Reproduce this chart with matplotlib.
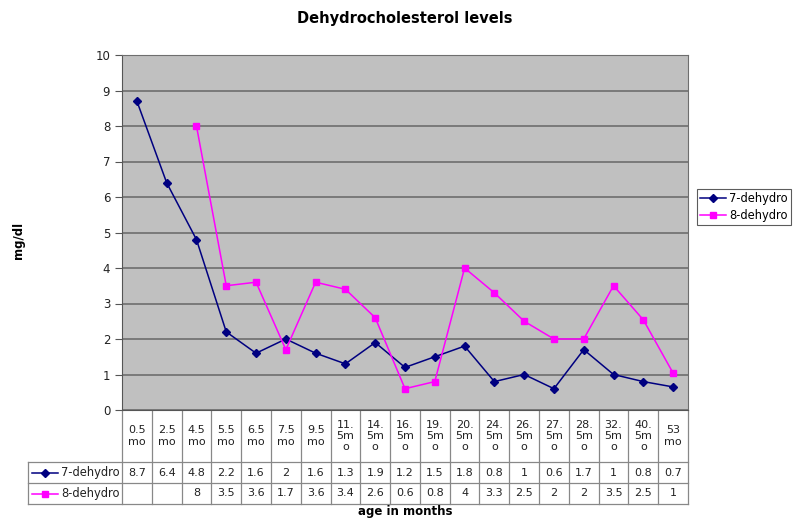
import matplotlib.pyplot as plt
import matplotlib.transforms as mtransforms
import numpy as np

# categories (age in months) and the two series
ages = ['0.5\nmo', '2.5\nmo', '4.5\nmo', '5.5\nmo', '6.5\nmo', '7.5\nmo', '9.5\nmo',
        '11.\n5m\no', '14.\n5m\no', '16.\n5m\no', '19.\n5m\no', '20.\n5m\no',
        '24.\n5m\no', '26.\n5m\no', '27.\n5m\no', '28.\n5m\no', '32.\n5m\no',
        '40.\n5m\no', '53\nmo']
dehydro7 = [8.7, 6.4, 4.8, 2.2, 1.6, 2, 1.6, 1.3, 1.9, 1.2, 1.5, 1.8, 0.8, 1, 0.6, 1.7, 1, 0.8, 0.65]
dehydro8 = [None, None, 8, 3.5, 3.6, 1.7, 3.6, 3.4, 2.6, 0.6, 0.8, 4, 3.3, 2.5, 2, 2, 3.5, 2.54, 1.04]
series = [('7-dehydro', dehydro7, '#000080', 'D', 3.8),
          ('8-dehydro', dehydro8, '#FF00FF', 's', 4.8)]

plt.rcParams['font.family'] = 'DejaVu Sans'

fig = plt.figure(figsize=(8, 5.24), dpi=100)
ax = fig.add_axes([122/800, 1 - 410/524, 566/800, 355/524])
ax.set_facecolor('#C0C0C0')

n = len(ages)
x = np.arange(n)
for name, vals, col, mk, ms in series:
    y = np.array([np.nan if v is None else v for v in vals], dtype=float)
    ax.plot(x, y, color=col, marker=mk, markersize=ms, lw=1.1, label=name)

ax.set_xlim(-0.5, n - 0.5)
ax.set_ylim(0, 10)
ax.set_yticks(range(0, 11))
ax.yaxis.grid(True, color='#6e6e6e', lw=1.2)
ax.set_axisbelow(True)
ax.set_xticks([])
ax.tick_params(axis='y', length=5, color='#555555', labelsize=8.5, labelcolor='#222222')
for s in ['top', 'right']:
    ax.spines[s].set_color('#6e6e6e')
for s in ['left', 'bottom']:
    ax.spines[s].set_color('#555555')

ax.set_title('Dehydrocholesterol levels', fontsize=10.5, fontweight='bold', pad=23)
fig.text(18/800, 1 - 240/524, 'mg/dl', rotation=90, fontsize=8.5, fontweight='bold',
         ha='center', va='center')

# data table below the axes
tr = mtransforms.blended_transform_factory(ax.transData, ax.transAxes)
tra = ax.transAxes
h1, r1, r2 = -52/355, -73/355, -94/355
lc = '#888888'
left_key = (28 - 122) / 566
for i in range(n + 1):
    ax.plot([i - 0.5, i - 0.5], [0, r2], transform=tr, color=lc, lw=0.9, clip_on=False)
ax.plot([left_key, 1], [h1, h1], transform=tra, color=lc, lw=0.9, clip_on=False)
ax.plot([left_key, 1], [r1, r1], transform=tra, color=lc, lw=0.9, clip_on=False)
ax.plot([left_key, 1], [r2, r2], transform=tra, color=lc, lw=0.9, clip_on=False)
ax.plot([left_key, left_key], [h1, r2], transform=tra, color=lc, lw=0.9, clip_on=False)

for i, lab in enumerate(ages):
    ax.text(i, h1 / 2, lab, transform=tr, ha='center', va='center', fontsize=8,
            color='#222222', linespacing=1.15)


def fmt(v):
    if v is None:
        return ''
    return '%g' % round(v, 1)


rows = [(r1, h1), (r2, r1)]
for (bot, top), (name, vals, col, mk, ms) in zip(rows, series):
    yc = (bot + top) / 2
    for i, v in enumerate(vals):
        ax.text(i, yc, fmt(v), transform=tr, ha='center', va='center', fontsize=8,
                color='#222222')
    kx0 = (32 - 122) / 566
    kx1 = (58 - 122) / 566
    ax.plot([kx0, kx1], [yc, yc], transform=tra, color=col, lw=1.1, clip_on=False)
    ax.plot([(kx0 + kx1) / 2], [yc], transform=tra, color=col, marker=mk,
            markersize=ms, clip_on=False)
    ax.text((61 - 122) / 566, yc, name, transform=tra, ha='left', va='center',
            fontsize=8.3, color='#222222')

fig.text(405/800, 1 - 512/524, 'age in months', ha='center', va='center',
         fontsize=8.5, fontweight='bold')

leg = fig.legend(loc='upper left', bbox_to_anchor=(697/800, 1 - 189/524), fontsize=8.3,
                 frameon=True, fancybox=False, handlelength=2.2, borderpad=0.3,
                 labelspacing=0.3, handletextpad=0.3, borderaxespad=0)
leg.get_frame().set_edgecolor('#333333')
leg.get_frame().set_linewidth(0.8)

fig.savefig('out.png', dpi=100)
